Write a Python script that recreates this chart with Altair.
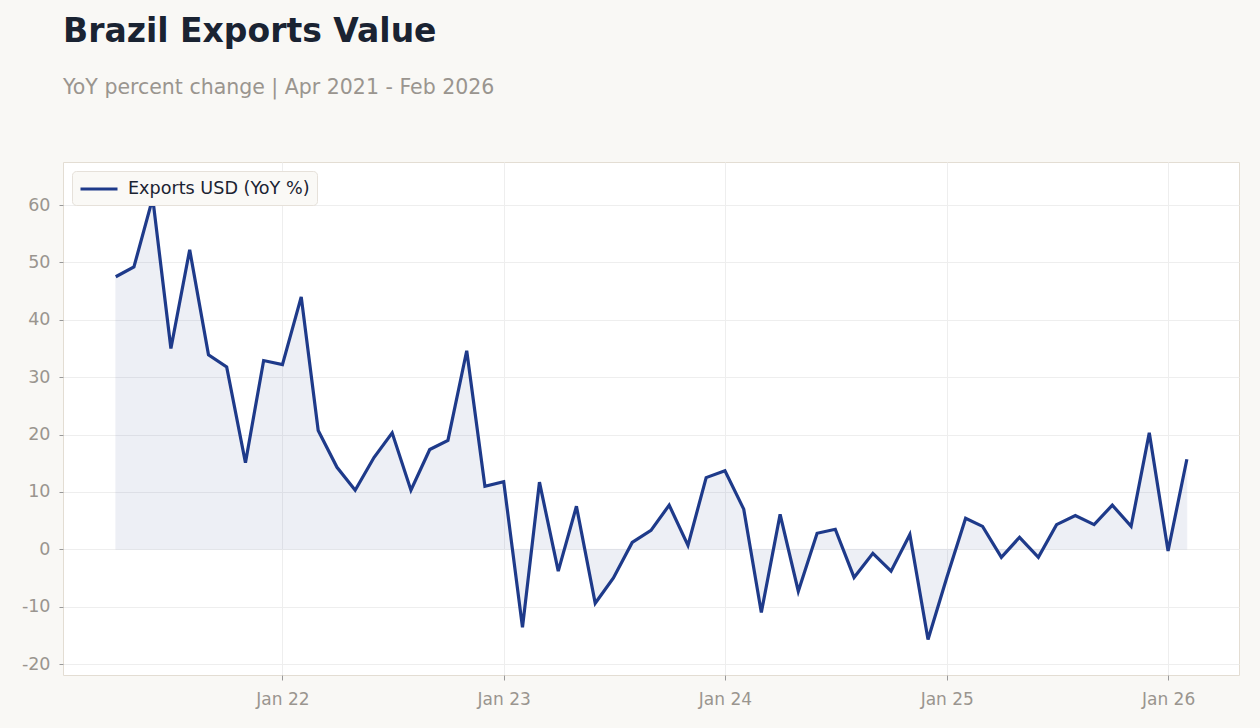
import altair as alt
import pandas as pd

months = pd.date_range("2021-04-01", periods=59, freq="MS").strftime("%Y-%m-%d").tolist()
yoy = [47.5, 49.2, 61.2, 35.0, 52.2, 33.9, 31.8, 15.1, 32.9,
       32.2, 44.0, 20.7, 14.3, 10.3, 16.0, 20.3, 10.3, 17.4, 19.0, 34.6, 11.0,
       11.8, -13.6, 11.7, -3.8, 7.5, -9.4, -5.0, 1.2, 3.3, 7.7, 0.7, 12.5,
       13.7, 7.0, -11.0, 6.1, -7.3, 2.8, 3.5, -4.9, -0.7, -3.8, 2.6, -15.7,
       -4.9, 5.4, 4.0, -1.4, 2.1, -1.4, 4.3, 5.9, 4.3, 7.7, 4.0, 20.3,
       -0.3, 15.7]
series_name = "Exports USD (YoY %)"
y_ticks = [-20, -10, 0, 10, 20, 30, 40, 50, 60]
x_tick_years = [2022, 2023, 2024, 2025, 2026]

df = pd.DataFrame({"date": months, "value": yoy, "series": series_name})

LINE = "#1e3a8a"
GRAY = "#9a958f"

x = alt.X("date:T",
          scale=alt.Scale(domain=["2021-01-04", "2026-04-28"]),
          axis=alt.Axis(values=[alt.DateTime(year=y, month=1, date=1) for y in x_tick_years],
                        format="%b %y", title=None, labelFontSize=17,
                        labelColor=GRAY, tickColor="#999999", tickSize=5,
                        labelPadding=11, grid=True, gridColor="#eeeeee", domain=False,
                        labelFont="DejaVu Sans"))
y = alt.Y("value:Q",
          scale=alt.Scale(domain=[-21.9, 67.5], nice=False, zero=False),
          axis=alt.Axis(values=y_ticks, title=None, labelFontSize=17.5, labelColor=GRAY,
                        labelExpr="'' + datum.value",
                        tickColor="#999999", tickSize=4, labelPadding=9,
                        grid=True, gridColor="#eeeeee", domain=False,
                        labelFont="DejaVu Sans"))

area = alt.Chart(df).mark_area(color=LINE, opacity=0.075, stroke=LINE,
                               strokeOpacity=0.6, strokeWidth=1).encode(
    x=x, y=y, y2=alt.datum(0))

line = alt.Chart(df).mark_line(strokeWidth=3.2, strokeJoin="miter").encode(
    x=x, y=y,
    color=alt.Color("series:N", scale=alt.Scale(domain=[series_name], range=[LINE]),
                    legend=alt.Legend(title=None, orient="top-left", offset=9,
                                      symbolType="M-2,0H2", symbolStrokeWidth=3,
                                      symbolSize=342, symbolOffset=9,
                                      symbolFillColor="transparent",
                                      labelFontSize=17.6, labelLimit=0,
                                      labelColor="#1a2332", labelFont="DejaVu Sans",
                                      fillColor="#faf9f6", strokeColor="#e6e1da",
                                      cornerRadius=4, padding=7, labelOffset=18)))

chart = (area + line).properties(
    width=1176, height=513,
    autosize=alt.AutoSizeParams(type="none"),
    padding={"left": 63, "top": 162, "right": 21, "bottom": 53},
    background="#f9f8f5",
    title=alt.TitleParams(text="Brazil Exports Value",
                          subtitle="YoY percent change | Apr 2021 - Feb 2026",
                          anchor="start", frame="group", orient="top",
                          font="DejaVu Sans", fontSize=33, fontWeight="bold",
                          color="#1a2332", subtitleFont="DejaVu Sans",
                          subtitleFontSize=20.5, subtitleColor=GRAY,
                          subtitlePadding=29, offset=64)
).configure_view(stroke="#e3ddd3", strokeWidth=1, fill="white")

chart.save("out.html", embed_options={"renderer": "svg", "actions": False})
